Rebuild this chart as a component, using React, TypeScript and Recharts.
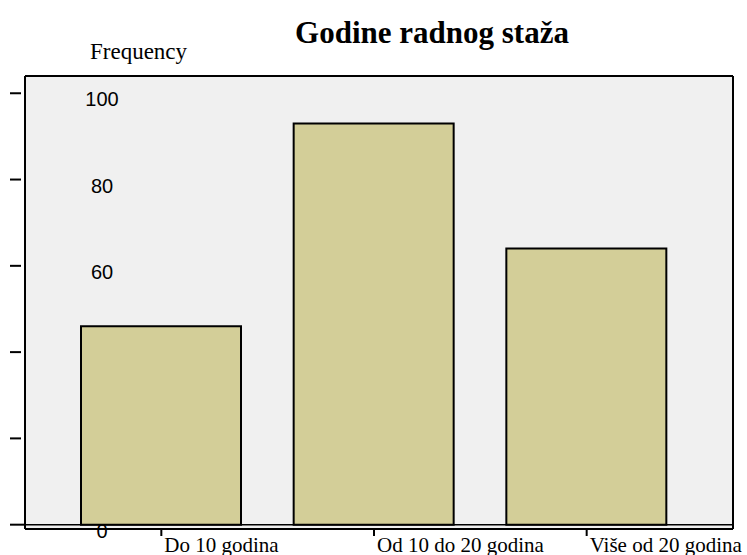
import { Bar, BarChart, CartesianGrid, ReferenceLine, XAxis, YAxis } from 'recharts';

const categories = ['Do 10 godina', 'Od 10 do 20 godina', 'Više od 20 godina'];
const frequencies = [46, 93, 64];
const yTicks = [0, 20, 40, 60, 80, 100];
const yDomain = [-1, 104];

const data = categories.map((name, i) => ({ name, frequency: frequencies[i] }));

const serif = '"Liberation Serif", "Times New Roman", serif';
const sans = '"Liberation Sans", Arial, sans-serif';
const chartMargin = { top: 75, right: 13, left: 0, bottom: 0 };
const frameLine = { stroke: '#000', strokeWidth: 2 };

// SPSS draws the value labels inside the plot, under the bars
function FrequencyLabel({ x, y, payload }: any) {
  return (
    <text x={x + 77} y={y + 6} textAnchor="middle" dominantBaseline="central" fontFamily={sans} fontSize={20} fill="#000">
      {payload.value}
    </text>
  );
}

function FrequencyDash({ x, y, payload }: any) {
  return <line x1={x - 15} x2={payload.value === 0 ? x : x - 4} y1={y} y2={y} stroke="#000" strokeWidth={2} />;
}

function CategoryTick({ x, y, payload }: any) {
  return (
    <g>
      <line x1={x} x2={x} y1={y - 1} y2={y + 7} stroke="#000" strokeWidth={2} />
      <text x={x + 3} y={y + 23} textAnchor="start" fontFamily={serif} fontSize={21} fill="#000">
        {payload.value}
      </text>
    </g>
  );
}

export default function App() {
  return (
    <div style={{ position: 'absolute', left: 0, top: 0, width: 747, height: 555, background: '#fff' }}>
      <div
        style={{
          position: 'absolute',
          left: 0,
          top: 17,
          width: 864,
          textAlign: 'center',
          fontFamily: serif,
          fontWeight: 'bold',
          fontSize: 31,
          lineHeight: 1
        }}
      >
        Godine radnog staža
      </div>
      <div style={{ position: 'absolute', left: 90, top: 40, fontFamily: serif, fontSize: 23, lineHeight: 1 }}>
        Frequency
      </div>

      {/* back layer: plot fill and value labels */}
      <div style={{ position: 'absolute', left: 0, top: 0 }}>
        <BarChart width={747} height={555} data={data} margin={chartMargin}>
          <CartesianGrid fill="#f0f0f0" stroke="none" horizontal={false} vertical={false} />
          <XAxis dataKey="name" height={26} padding={{ left: 30, right: 40 }} tick={false} tickLine={false} axisLine={false} />
          <XAxis xAxisId="top" dataKey="name" orientation="top" height={1} tick={false} tickLine={false} axisLine={false} />
          <YAxis
            width={25}
            domain={yDomain}
            ticks={yTicks}
            interval={0}
            tickSize={0}
            tickMargin={0}
            tickLine={false}
            tick={<FrequencyLabel />}
            axisLine={false}
          />
          <YAxis yAxisId="right" orientation="right" width={1} domain={yDomain} tick={false} tickLine={false} axisLine={false} />
          <Bar dataKey="frequency" fill="transparent" stroke="none" barSize={160} isAnimationActive={false} />
        </BarChart>
      </div>

      {/* front layer: bars, frame and ticks */}
      <div style={{ position: 'absolute', left: 0, top: 0 }}>
        <BarChart width={747} height={555} data={data} margin={chartMargin}>
          <XAxis
            dataKey="name"
            interval={0}
            height={26}
            padding={{ left: 30, right: 40 }}
            tickSize={0}
            tickMargin={0}
            tickLine={false}
            tick={<CategoryTick />}
            axisLine={frameLine}
          />
          <XAxis xAxisId="top" dataKey="name" orientation="top" height={1} tick={false} tickLine={false} axisLine={frameLine} />
          <YAxis
            width={25}
            domain={yDomain}
            ticks={yTicks}
            interval={0}
            tickSize={0}
            tickMargin={0}
            tickLine={false}
            tick={<FrequencyDash />}
            axisLine={frameLine}
          />
          <YAxis yAxisId="right" orientation="right" width={1} domain={yDomain} tick={false} tickLine={false} axisLine={frameLine} />
          <ReferenceLine y={0} stroke="#000" strokeWidth={1.5} />
          <Bar dataKey="frequency" fill="#d3ce98" stroke="#000" strokeWidth={2} barSize={160} isAnimationActive={false} />
        </BarChart>
      </div>
    </div>
  );
}
